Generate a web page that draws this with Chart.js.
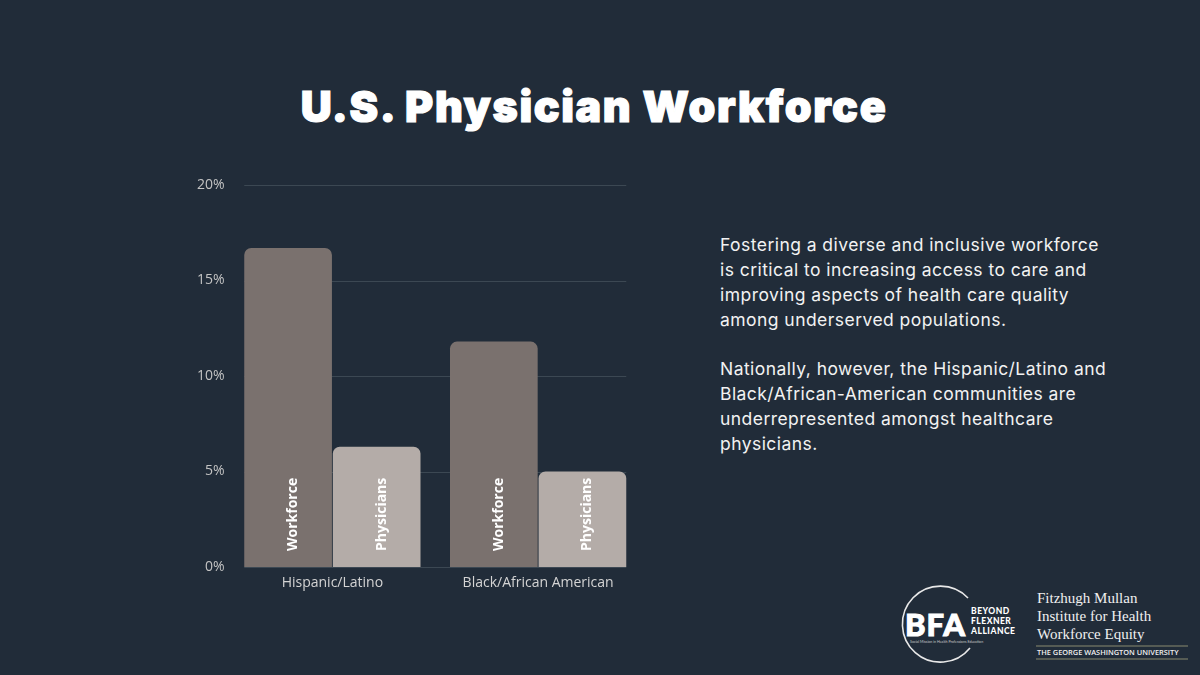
<!DOCTYPE html>
<html><head><meta charset="utf-8">
<script src="https://cdn.jsdelivr.net/npm/chart.js@4"></script>
<style>
html,body{margin:0;padding:0;background:#212c39;width:1200px;height:675px;overflow:hidden;font-family:"Open Sans",sans-serif;}
#title{position:absolute;left:0;width:1188px;top:80px;text-align:center;color:#fff;font-family:"Inter","Lato",sans-serif;font-weight:900;font-size:43px;letter-spacing:1.6px;-webkit-text-stroke:1.2px #fff;}
#wrap{position:absolute;left:180px;top:170px;width:461px;height:431px;}
#text{position:absolute;left:720px;top:232px;width:392px;color:#f2f2f2;font-family:"Inter",sans-serif;font-size:17.5px;letter-spacing:0.45px;line-height:25px;}
#text p{margin:0 0 24px 0;}
#logos{position:absolute;left:890px;top:582px;}
</style></head>
<body>
<div id="title">U.S. Physician Workforce</div>
<div id="wrap"><canvas id="c"></canvas></div>
<div id="text">
<p>Fostering a diverse and inclusive workforce is critical to increasing access to care and improving aspects of health care quality among underserved populations.</p>
<p>Nationally, however, the Hispanic/Latino and Black/African-American communities are underrepresented amongst healthcare physicians.</p>
</div>
<svg id="logos" width="310" height="90" viewBox="0 0 310 90">
  <path d="M 78 16 A 38 38 0 1 0 80 66" fill="none" stroke="#e8e8e8" stroke-width="1.6"/>
  <text x="15" y="54" fill="#fff" font-family="Lato, sans-serif" font-weight="900" font-size="31" letter-spacing="1" stroke="#fff" stroke-width="1">BFA</text>
  <text x="81" y="32" fill="#fff" font-family="Lato, sans-serif" font-weight="900" font-size="8.5" letter-spacing="0.5">BEYOND</text>
  <text x="81" y="42" fill="#fff" font-family="Lato, sans-serif" font-weight="900" font-size="8.5" letter-spacing="0.5">FLEXNER</text>
  <text x="81" y="52" fill="#fff" font-family="Lato, sans-serif" font-weight="900" font-size="8.5" letter-spacing="0.5">ALLIANCE</text>
  <text x="20" y="61" fill="#c8c8c8" font-family="Lato, sans-serif" font-size="3.6">Social Mission in Health Professions Education</text>
  <text x="147" y="21" fill="#f0f0f0" font-family="Liberation Serif, serif" font-size="15">Fitzhugh Mullan</text>
  <text x="147" y="39" fill="#f0f0f0" font-family="Liberation Serif, serif" font-size="15">Institute for Health</text>
  <text x="147" y="57" fill="#f0f0f0" font-family="Liberation Serif, serif" font-size="15">Workforce Equity</text>
  <line x1="146" y1="64" x2="298" y2="64" stroke="#8a8a70" stroke-width="1"/>
  <text x="147" y="73" fill="#f0f0f0" font-family="Open Sans, sans-serif" font-weight="600" font-size="7.4">THE GEORGE WASHINGTON UNIVERSITY</text>
  <line x1="146" y1="77" x2="298" y2="77" stroke="#8a8a70" stroke-width="1"/>
</svg>
<script>
const categories = ["Hispanic/Latino", "Black/African American"];
const seriesNames = ["Workforce", "Physicians"];
const workforce = [16.7, 11.8];
const physicians = [6.3, 5.0];
const yTicks = [0, 5, 10, 15, 20];

// horizontal grid lines spanning from the first bar's left edge to the last bar's right edge
const gridLines = {
  id: 'gridLines',
  beforeDatasetsDraw(chart) {
    const ctx = chart.ctx;
    const y = chart.scales.y;
    const first = chart.getDatasetMeta(0).data[0];
    const lastMeta = chart.getDatasetMeta(chart.data.datasets.length - 1);
    const last = lastMeta.data[lastMeta.data.length - 1];
    const x0 = first.x - first.width / 2;
    const x1 = last.x + last.width / 2;
    ctx.save();
    ctx.strokeStyle = '#3c4853';
    ctx.lineWidth = 1;
    y.ticks.forEach(t => {
      const py = Math.round(y.getPixelForValue(t.value)) + 0.5;
      ctx.beginPath();
      ctx.moveTo(x0, py);
      ctx.lineTo(x1, py);
      ctx.stroke();
    });
    ctx.restore();
  }
};

const barLabels = {
  id: 'barLabels',
  afterDatasetsDraw(chart) {
    const ctx = chart.ctx;
    chart.data.datasets.forEach((ds, di) => {
      const meta = chart.getDatasetMeta(di);
      meta.data.forEach(el => {
        ctx.save();
        ctx.translate(el.x + 5, el.base - 16);
        ctx.rotate(-Math.PI / 2);
        ctx.fillStyle = '#ffffff';
        ctx.font = 'bold 14px "Open Sans", sans-serif';
        ctx.textAlign = 'left';
        ctx.textBaseline = 'middle';
        ctx.fillText(ds.label, 0, 0);
        ctx.restore();
      });
    });
  }
};

new Chart(document.getElementById('c'), {
  type: 'bar',
  data: {
    labels: categories,
    datasets: [
      { label: seriesNames[0], data: workforce, backgroundColor: '#7a716e', borderRadius: {topLeft: 7, topRight: 7}, borderSkipped: 'bottom' },
      { label: seriesNames[1], data: physicians, backgroundColor: '#b4aca8', borderRadius: {topLeft: 7, topRight: 7}, borderSkipped: 'bottom' }
    ]
  },
  options: {
    responsive: true,
    maintainAspectRatio: false,
    animation: false,
    devicePixelRatio: 1,
    layout: { padding: { top: 15, right: 0, left: 0, bottom: 0 } },
    plugins: { legend: { display: false }, tooltip: { enabled: false } },
    datasets: { bar: { categoryPercentage: 0.861, barPercentage: 0.99 } },
    scales: {
      x: {
        grid: { display: false },
        border: { display: false },
        ticks: { color: '#d4d4d4', font: { family: 'Open Sans', size: 14 }, padding: 0 },
        afterFit(s) { s.height = 34; }
      },
      y: {
        min: 0, max: 20,
        afterBuildTicks(s) { s.ticks = yTicks.map(v => ({ value: v })); },
        grid: { display: false },
        border: { display: false },
        ticks: { color: '#c4c4c4', font: { family: 'Open Sans', size: 14 }, padding: -3, callback: v => v + '%' },
        afterFit(s) { s.width = 49.5; }
      }
    }
  },
  plugins: [gridLines, barLabels]
});
</script>
</body></html>
